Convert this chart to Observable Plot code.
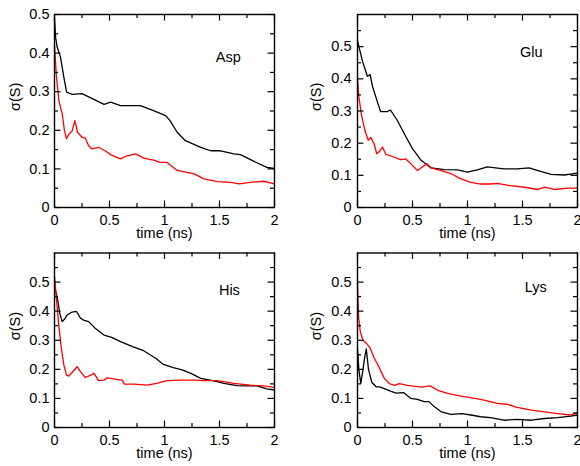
<!DOCTYPE html>
<html><head><meta charset="utf-8">
<script src="https://cdn.jsdelivr.net/npm/d3@7"></script>
<script src="https://cdn.jsdelivr.net/npm/@observablehq/plot@0.6"></script>
<style>
body{margin:0;background:#fff;}
#wrap{position:relative;width:580px;height:466px;overflow:hidden;background:#fff;}
#wrap svg{position:absolute;}
</style></head><body><div id="wrap"></div>
<script>
// ---- tick labels ----
const xMajor = [0, 0.5, 1, 1.5, 2];
const xMinor = [0.25, 0.75, 1.25, 1.75];
const yMajor = [0, 0.1, 0.2, 0.3, 0.4, 0.5];
const yMinor = [0.05, 0.15, 0.25, 0.35, 0.45, 0.55];
const xTitle = "time (ns)";
const yTitle = "σ(S)";
const panelNames = ["Asp", "Glu", "His", "Lys"];

// ---- Asp ----
const aspBlackT = [0, 0.01, 0.025, 0.055, 0.085, 0.11, 0.16, 0.25, 0.33, 0.45, 0.51, 0.6, 0.78, 0.9, 1.01, 1.05, 1.115, 1.19, 1.33, 1.42, 1.51, 1.63, 1.69, 1.81, 1.93, 2.0];
const aspBlackS = [0.49, 0.44, 0.415, 0.389, 0.337, 0.299, 0.293, 0.295, 0.284, 0.267, 0.273, 0.264, 0.264, 0.251, 0.238, 0.225, 0.195, 0.173, 0.156, 0.147, 0.147, 0.139, 0.137, 0.12, 0.104, 0.101];
const aspRedT = [0, 0.018, 0.04, 0.07, 0.09, 0.11, 0.13, 0.16, 0.185, 0.21, 0.25, 0.28, 0.31, 0.34, 0.4, 0.46, 0.51, 0.6, 0.66, 0.74, 0.81, 0.9, 0.96, 1.02, 1.11, 1.27, 1.36, 1.48, 1.6, 1.68, 1.78, 1.9, 2.0];
const aspRedS = [0.42, 0.338, 0.277, 0.243, 0.2, 0.178, 0.19, 0.198, 0.225, 0.195, 0.182, 0.18, 0.16, 0.152, 0.156, 0.147, 0.137, 0.126, 0.134, 0.139, 0.128, 0.123, 0.117, 0.117, 0.097, 0.087, 0.074, 0.067, 0.065, 0.061, 0.065, 0.068, 0.061];

// ---- Glu ----
const gluBlackT = [0, 0.015, 0.045, 0.09, 0.115, 0.136, 0.18, 0.21, 0.27, 0.3, 0.36, 0.44, 0.5, 0.58, 0.67, 0.79, 0.91, 1.0, 1.09, 1.18, 1.33, 1.45, 1.56, 1.64, 1.76, 1.88, 2.0];
const gluBlackS = [0.518, 0.497, 0.455, 0.408, 0.413, 0.377, 0.329, 0.298, 0.298, 0.303, 0.272, 0.22, 0.183, 0.146, 0.123, 0.118, 0.117, 0.11, 0.117, 0.126, 0.12, 0.12, 0.123, 0.115, 0.103, 0.101, 0.107];
const gluRedT = [0, 0.012, 0.036, 0.067, 0.097, 0.12, 0.15, 0.175, 0.197, 0.227, 0.258, 0.33, 0.39, 0.44, 0.5, 0.545, 0.59, 0.63, 0.67, 0.76, 0.85, 0.94, 1.03, 1.12, 1.21, 1.27, 1.39, 1.52, 1.64, 1.7, 1.79, 1.91, 2.0];
const gluRedS = [0.40, 0.345, 0.288, 0.24, 0.209, 0.218, 0.199, 0.167, 0.173, 0.188, 0.165, 0.157, 0.149, 0.151, 0.131, 0.115, 0.126, 0.136, 0.123, 0.115, 0.105, 0.089, 0.078, 0.073, 0.073, 0.075, 0.068, 0.063, 0.056, 0.063, 0.056, 0.06, 0.06];

// ---- His ----
const hisBlackT = [0, 0.024, 0.048, 0.07, 0.09, 0.115, 0.16, 0.2, 0.236, 0.27, 0.31, 0.37, 0.45, 0.52, 0.6, 0.71, 0.81, 0.92, 0.99, 1.08, 1.16, 1.24, 1.33, 1.45, 1.54, 1.66, 1.75, 1.84, 1.93, 2.0];
const hisBlackS = [0.485, 0.45, 0.393, 0.364, 0.372, 0.387, 0.397, 0.399, 0.376, 0.368, 0.364, 0.341, 0.318, 0.31, 0.295, 0.278, 0.264, 0.238, 0.217, 0.206, 0.198, 0.186, 0.169, 0.16, 0.152, 0.144, 0.143, 0.143, 0.133, 0.129];
const hisRedT = [0, 0.018, 0.04, 0.06, 0.085, 0.11, 0.13, 0.16, 0.206, 0.236, 0.28, 0.33, 0.36, 0.4, 0.45, 0.48, 0.55, 0.615, 0.636, 0.72, 0.84, 0.93, 1.02, 1.15, 1.27, 1.36, 1.48, 1.63, 1.78, 1.9, 2.0];
const hisRedS = [0.52, 0.44, 0.347, 0.278, 0.215, 0.18, 0.177, 0.189, 0.209, 0.192, 0.172, 0.18, 0.186, 0.161, 0.163, 0.171, 0.166, 0.163, 0.149, 0.149, 0.146, 0.152, 0.161, 0.163, 0.163, 0.161, 0.161, 0.152, 0.146, 0.143, 0.138];

// ---- Lys ----
const lysBlackT = [0, 0.012, 0.03, 0.05, 0.065, 0.08, 0.1, 0.13, 0.17, 0.2, 0.25, 0.3, 0.35, 0.42, 0.485, 0.545, 0.606, 0.65, 0.7, 0.76, 0.85, 0.95, 1.03, 1.12, 1.21, 1.33, 1.45, 1.58, 1.7, 1.82, 1.94, 2.0];
const lysBlackS = [0.27, 0.2, 0.152, 0.2, 0.24, 0.27, 0.2, 0.155, 0.14, 0.14, 0.133, 0.125, 0.118, 0.12, 0.1, 0.097, 0.089, 0.089, 0.071, 0.054, 0.045, 0.048, 0.043, 0.037, 0.034, 0.025, 0.028, 0.025, 0.031, 0.034, 0.039, 0.043];
const lysRedT = [0, 0.01, 0.025, 0.05, 0.08, 0.106, 0.125, 0.15, 0.18, 0.245, 0.29, 0.336, 0.38, 0.455, 0.58, 0.66, 0.73, 0.82, 0.94, 1.03, 1.15, 1.27, 1.36, 1.45, 1.58, 1.7, 1.82, 1.94, 2.0];
const lysRedS = [0.497, 0.38, 0.33, 0.3, 0.29, 0.278, 0.264, 0.24, 0.219, 0.168, 0.151, 0.145, 0.151, 0.145, 0.139, 0.143, 0.128, 0.117, 0.108, 0.103, 0.094, 0.083, 0.08, 0.069, 0.06, 0.054, 0.048, 0.043, 0.05];

const zip = (T, S) => T.map((t, i) => ({t, s: S[i]}));
const font = "Liberation Sans, Arial, Helvetica, sans-serif";
const FS = 14.5;
const W = 290, H = 233;
const MAJ = 6.5, MIN = 4, TW = 1.2;

function panel(o) {
  const fw = W - o.ml - o.mr;          // frame width in px
  const fh = H - o.mt - o.mb;          // frame height in px
  const yTicksMajor = yMajor.filter(v => v <= o.yMax);
  const yTicksMinor = yMinor.filter(v => v < o.yMax);
  const inwardX = (ticks, len) => [
    Plot.tickX(ticks, {x: d => d, insetTop: fh - len, stroke: "black", strokeWidth: TW}),
    Plot.tickX(ticks, {x: d => d, insetBottom: fh - len, stroke: "black", strokeWidth: TW})
  ];
  const inwardY = (ticks, len) => [
    Plot.tickY(ticks, {y: d => d, insetRight: fw - len, stroke: "black", strokeWidth: TW}),
    Plot.tickY(ticks, {y: d => d, insetLeft: fw - len, stroke: "black", strokeWidth: TW})
  ];
  const svg = Plot.plot({
    width: W, height: H,
    marginLeft: o.ml, marginRight: o.mr, marginTop: o.mt, marginBottom: o.mb,
    style: {fontFamily: font, fontSize: FS + "px", background: "transparent", color: "black", overflow: "visible"},
    x: {domain: [0, 2]},
    y: {domain: [0, o.yMax]},
    marks: [
      Plot.line(zip(o.bT, o.bS), {x: "t", y: "s", stroke: "black", strokeWidth: 1.3}),
      Plot.line(zip(o.rT, o.rS), {x: "t", y: "s", stroke: "#ff0000", strokeWidth: 1.3}),
      ...inwardX(xMajor, MAJ),
      ...inwardX(xMinor, MIN),
      ...inwardY(yTicksMajor, MAJ),
      ...inwardY(yTicksMinor, MIN),
      Plot.axisX(xMajor, {anchor: "bottom", tickSize: 0, tickPadding: 7.5, tickFormat: d => String(d), label: null, fontSize: FS}),
      Plot.axisY(yTicksMajor, {anchor: "left", tickSize: 0, tickPadding: o.yPad, tickFormat: d => String(d), label: null, fontSize: FS}),
      Plot.frame({stroke: "black", strokeWidth: 1.4}),
      Plot.text([o.name], {x: o.lx, y: o.ly, fontSize: FS, fill: "black"}),
      Plot.text([xTitle], {frameAnchor: "bottom", dy: 30.5, fontSize: FS, fill: "black"}),
      Plot.text([yTitle], {frameAnchor: "left", rotate: -90, dx: o.ydx, fontSize: FS, fill: "black"})
    ]
  });
  svg.style.left = o.left + "px";
  svg.style.top = o.top + "px";
  document.getElementById("wrap").appendChild(svg);
}

panel({name: panelNames[0], bT: aspBlackT, bS: aspBlackS, rT: aspRedT, rS: aspRedS, yMax: 0.5,
  left: 0, top: 0, ml: 54, mr: 16, mt: 14, mb: 26, yPad: 5, ydx: -39, lx: 1.58, ly: 0.39});
panel({name: panelNames[1], bT: gluBlackT, bS: gluBlackS, rT: gluRedT, rS: gluRedS, yMax: 0.6,
  left: 290, top: 0, ml: 67, mr: 3, mt: 14, mb: 26, yPad: 6, ydx: -41, lx: 1.58, ly: 0.482});
panel({name: panelNames[2], bT: hisBlackT, bS: hisBlackS, rT: hisRedT, rS: hisRedS, yMax: 0.6,
  left: 0, top: 233, ml: 54, mr: 16, mt: 19.5, mb: 39, yPad: 5, ydx: -39, lx: 1.59, ly: 0.473});
panel({name: panelNames[3], bT: lysBlackT, bS: lysBlackS, rT: lysRedT, rS: lysRedS, yMax: 0.6,
  left: 290, top: 233, ml: 67, mr: 3, mt: 19.5, mb: 39, yPad: 6, ydx: -41, lx: 1.62, ly: 0.483});
</script>
</body></html>
